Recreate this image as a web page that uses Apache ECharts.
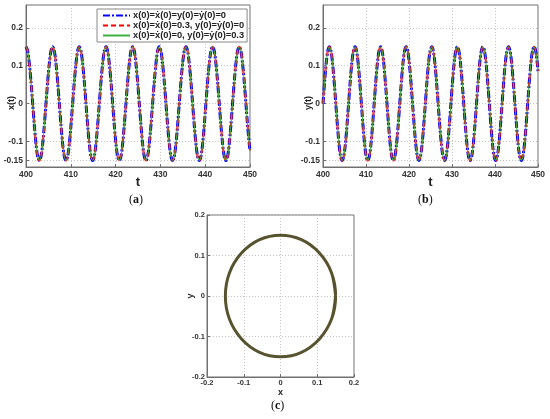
<!DOCTYPE html>
<html>
<head>
<meta charset="utf-8">
<script src="https://cdn.jsdelivr.net/npm/echarts@6/dist/echarts.min.js"></script>
<style>html,body{margin:0;padding:0;background:#fff}#c{width:550px;height:419px}</style>
</head>
<body>
<div id="c"></div>
<script>
// time samples
const tValues = [
400.00,400.37,400.74,401.12,401.49,401.86,402.23,402.60,402.98,403.35,403.72,404.09,404.46,404.83,405.21,405.58,
405.95,406.32,406.69,407.07,407.44,407.81,408.18,408.55,408.93,409.30,409.67,410.04,410.41,410.78,411.16,411.53,
411.90,412.27,412.64,413.02,413.39,413.76,414.13,414.50,414.88,415.25,415.62,415.99,416.36,416.73,417.11,417.48,
417.85,418.22,418.59,418.97,419.34,419.71,420.08,420.45,420.83,421.20,421.57,421.94,422.31,422.68,423.06,423.43,
423.80,424.17,424.54,424.92,425.29,425.66,426.03,426.40,426.78,427.15,427.52,427.89,428.26,428.63,429.01,429.38,
429.75,430.12,430.49,430.87,431.24,431.61,431.98,432.35,432.73,433.10,433.47,433.84,434.21,434.58,434.96,435.33,
435.70,436.07,436.44,436.82,437.19,437.56,437.93,438.30,438.68,439.05,439.42,439.79,440.16,440.53,440.91,441.28,
441.65,442.02,442.39,442.77,443.14,443.51,443.88,444.25,444.63,445.00,445.37,445.74,446.11,446.48,446.86,447.23,
447.60,447.97,448.34,448.72,449.09,449.46,449.83,450.00];
// x(t) values (all three initial conditions overlap)
const xValues = [
0.15,0.139,0.106,0.057,0,-0.057,-0.106,-0.139,-0.15,-0.139,-0.106,-0.057,0,0.057,0.106,0.139,
0.15,0.139,0.106,0.057,0,-0.057,-0.106,-0.139,-0.15,-0.139,-0.106,-0.057,0,0.057,0.106,0.139,
0.15,0.139,0.106,0.057,0,-0.057,-0.106,-0.139,-0.15,-0.139,-0.106,-0.057,0,0.057,0.106,0.139,
0.15,0.139,0.106,0.057,0,-0.057,-0.106,-0.139,-0.15,-0.139,-0.106,-0.057,0,0.057,0.106,0.139,
0.15,0.139,0.106,0.057,0,-0.057,-0.106,-0.139,-0.15,-0.139,-0.106,-0.057,0,0.057,0.106,0.139,
0.15,0.139,0.106,0.057,0,-0.057,-0.106,-0.139,-0.15,-0.139,-0.106,-0.057,0,0.057,0.106,0.139,
0.15,0.139,0.106,0.057,0,-0.057,-0.106,-0.139,-0.15,-0.139,-0.106,-0.057,0,0.057,0.106,0.139,
0.15,0.139,0.106,0.057,0,-0.057,-0.106,-0.139,-0.15,-0.139,-0.106,-0.057,0,0.057,0.106,0.139,
0.15,0.139,0.106,0.057,0,-0.057,-0.106,-0.123];
// y(t) values
const yValues = [
0,0.057,0.106,0.139,0.15,0.139,0.106,0.057,0,-0.057,-0.106,-0.139,-0.15,-0.139,-0.106,-0.057,
0,0.057,0.106,0.139,0.15,0.139,0.106,0.057,0,-0.057,-0.106,-0.139,-0.15,-0.139,-0.106,-0.057,
0,0.057,0.106,0.139,0.15,0.139,0.106,0.057,0,-0.057,-0.106,-0.139,-0.15,-0.139,-0.106,-0.057,
0,0.057,0.106,0.139,0.15,0.139,0.106,0.057,0,-0.057,-0.106,-0.139,-0.15,-0.139,-0.106,-0.057,
0,0.057,0.106,0.139,0.15,0.139,0.106,0.057,0,-0.057,-0.106,-0.139,-0.15,-0.139,-0.106,-0.057,
0,0.057,0.106,0.139,0.15,0.139,0.106,0.057,0,-0.057,-0.106,-0.139,-0.15,-0.139,-0.106,-0.057,
0,0.057,0.106,0.139,0.15,0.139,0.106,0.057,0,-0.057,-0.106,-0.139,-0.15,-0.139,-0.106,-0.057,
0,0.057,0.106,0.139,0.15,0.139,0.106,0.057,0,-0.057,-0.106,-0.139,-0.15,-0.139,-0.106,-0.057,
0,0.057,0.106,0.139,0.15,0.139,0.106,0.086];
const seriesNames = ['x(0)=ẋ(0)=y(0)=ẏ(0)=0','x(0)=ẋ(0)=0.3, y(0)=ẏ(0)=0','x(0)=ẋ(0)=0, y(0)=ẏ(0)=0.3'];
const timeTicks = [400,410,420,430,440,450];
const ampTicks = [-0.15,-0.1,0,0.1,0.2];
const phaseTicks = [-0.2,-0.1,0,0.1,0.2];

const FONT = 'Liberation Sans';
const frameColor = '#707070';
const gridLine = {show:true,lineStyle:{color:'#c4c4c4',width:1,type:[1,2]}};
const styles = [
  {color:'#0000ff',width:3,type:[7,2,2,2]},
  {color:'#ff0000',width:2,type:[5,3]},
  {color:'#3cb043',width:1,type:'solid'}
];
const tsData = tValues.map((t,i)=>[t,xValues[i]]);
const tsDataY = tValues.map((t,i)=>[t,yValues[i]]);
const phaseData = tValues.slice(0,128).map((t,i)=>[xValues[i],yValues[i]]);
phaseData.push(phaseData[0]);

function timeX(gi){
  return {type:'value',gridIndex:gi,min:timeTicks[0],max:timeTicks[timeTicks.length-1],interval:10,
    name:'t',nameLocation:'middle',nameGap:9,nameMoveOverlap:false,
    nameTextStyle:{fontFamily:FONT,fontWeight:'bold',fontSize:13,color:'#222'},
    axisLine:{show:true,onZero:false,lineStyle:{color:frameColor}},
    axisTick:{show:true,inside:true,length:3,lineStyle:{color:frameColor}},
    axisLabel:{fontFamily:FONT,fontWeight:'bold',fontSize:8.5,color:'#333',margin:3},
    splitLine:gridLine};
}
function ampY(gi,name){
  return {type:'value',gridIndex:gi,min:-0.167,max:0.26,
    name:name,nameLocation:'middle',nameGap:10,nameMoveOverlap:false,
    nameTextStyle:{fontFamily:FONT,fontWeight:'bold',fontSize:9,color:'#222',padding:[0,34,0,0]},
    axisLine:{show:true,onZero:false,lineStyle:{color:frameColor}},
    axisTick:{show:true,inside:true,length:3,customValues:ampTicks,lineStyle:{color:frameColor}},
    axisLabel:{customValues:ampTicks,fontFamily:FONT,fontWeight:'bold',fontSize:8.5,color:'#333',margin:3},
    splitLine:gridLine};
}
function phaseAxis(gi,name,gap){
  return {type:'value',gridIndex:gi,min:phaseTicks[0],max:phaseTicks[4],interval:0.1,
    name:name,nameLocation:'middle',nameGap:gap,nameMoveOverlap:false,
    nameTextStyle:{fontFamily:FONT,fontWeight:'bold',fontSize:9,color:'#222'},
    axisLine:{show:true,onZero:false,lineStyle:{color:frameColor}},
    axisTick:{show:true,inside:true,length:3,lineStyle:{color:frameColor}},
    axisLabel:{fontFamily:FONT,fontWeight:'bold',fontSize:7.5,color:'#333',margin:2},
    splitLine:gridLine};
}

const series = [];
seriesNames.forEach((n,k)=>{
  series.push({type:'line',name:n,xAxisIndex:0,yAxisIndex:0,data:tsData,smooth:0.3,symbol:'none',lineStyle:styles[k],itemStyle:{color:styles[k].color},z:2+k});
});
seriesNames.forEach((n,k)=>{
  series.push({type:'line',name:n,xAxisIndex:1,yAxisIndex:1,data:tsDataY,smooth:0.3,symbol:'none',lineStyle:styles[k],itemStyle:{color:styles[k].color},z:2+k});
});
series.push({type:'line',name:'phase',xAxisIndex:2,yAxisIndex:2,data:phaseData,smooth:0.3,symbol:'none',
  lineStyle:{color:'#58532f',width:3},z:3});

function cap(letter,x,y){
  return {type:'text',left:x,top:y,style:{text:'({b|'+letter+'})',fontFamily:'Liberation Serif',fontSize:12,fill:'#111',
    rich:{b:{fontFamily:'Liberation Serif',fontSize:12,fontWeight:'bold',fill:'#111'}}}};
}

const chart = echarts.init(document.getElementById('c'),null,{renderer:'canvas'});
chart.setOption({
  animation:false,
  backgroundColor:'#fff',
  grid:[
    {left:26,top:5,width:224,height:162,show:true,borderColor:frameColor,borderWidth:1,backgroundColor:'transparent'},
    {left:323,top:5,width:215,height:162,show:true,borderColor:frameColor,borderWidth:1,backgroundColor:'transparent'},
    {left:207,top:215,width:147,height:162,show:true,borderColor:frameColor,borderWidth:1,backgroundColor:'transparent'}
  ],
  xAxis:[timeX(0),timeX(1),phaseAxis(2,'x',11)],
  yAxis:[ampY(0,'x(t)'),ampY(1,'y(t)'),phaseAxis(2,'y',12)],
  legend:{data:seriesNames,orient:'vertical',left:97,top:9,itemWidth:27,itemHeight:8,itemGap:1,padding:[2,3,2,5],
    backgroundColor:'#fff',borderColor:'#888',borderWidth:1,itemStyle:{opacity:0},
    textStyle:{fontFamily:FONT,fontWeight:'bold',fontSize:9.3,lineHeight:9,color:'#222',padding:[0,0,0,-2]}},
  graphic:[cap('a',129,194),cap('b',418,194),cap('c',271,400)],
  series:series
});
</script>
</body>
</html>
